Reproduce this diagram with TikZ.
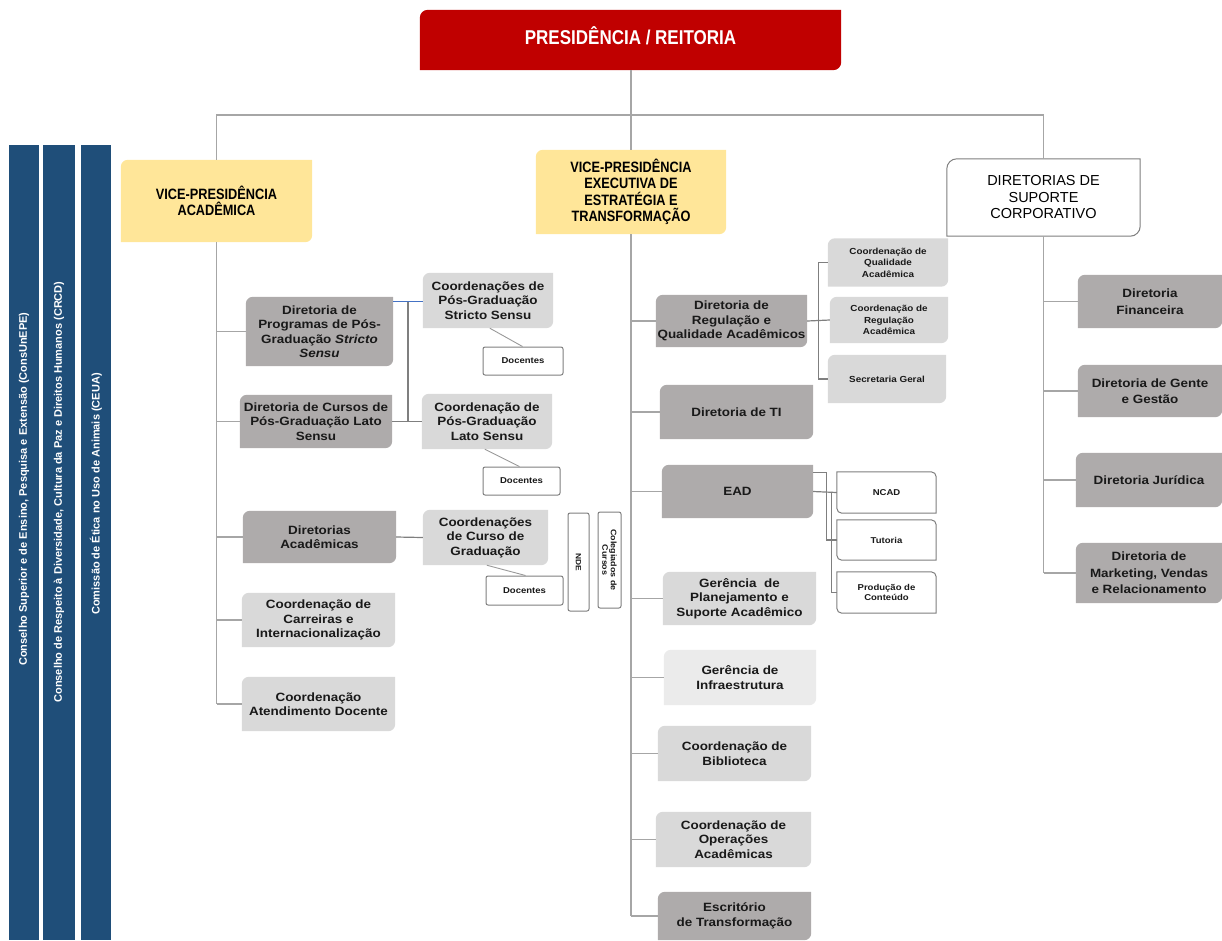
\documentclass[tikz,border=0pt]{standalone}
\usepackage{fontspec}
\setmainfont{Liberation Sans}
\newfontfamily\boxfnt[FakeStretch=1.12]{Liberation Sans}
\newfontfamily\narrowfnt[FakeStretch=0.85]{Liberation Sans}
\usetikzlibrary{backgrounds,calc}
\definecolor{cRed}{HTML}{C00000}
\definecolor{cYellow}{HTML}{FFE699}
\definecolor{cDark}{HTML}{AEABAB}
\definecolor{cLight}{HTML}{D9D9D9}
\definecolor{cLighter}{HTML}{EBEBEB}
\definecolor{cBar}{HTML}{1F4E79}
\definecolor{lineGray}{HTML}{A6A6A6}
\definecolor{darkLine}{HTML}{7F7F7F}
\definecolor{cBorder}{HTML}{7F7F7F}
\definecolor{cBlueLine}{HTML}{4472C4}
\newcommand\tlbr[4]{%
  \path[fill=#2,draw=#3,line width=1pt] ([yshift=-#4]#1.north west) arc[start angle=180,end angle=90,radius=#4] -- (#1.north east) -- ([yshift=#4]#1.south east) arc[start angle=0,end angle=-90,radius=#4] -- (#1.south west) -- cycle;}
\newcommand\trbl[4]{%
  \path[fill=#2,draw=#3,line width=1pt] (#1.north west) -- ([xshift=-#4]#1.north east) arc[start angle=90,end angle=0,radius=#4] -- (#1.south east) -- ([xshift=#4]#1.south west) arc[start angle=270,end angle=180,radius=#4] -- cycle;}
\begin{document}
\begin{tikzpicture}[x=1pt,y=-1pt,
  box/.style={inner sep=0pt, align=center, text=black!90, font=\boxfnt\bfseries\fontsize{12}{14.5}\selectfont},
  rbox/.style={box, font=\boxfnt\bfseries\fontsize{12}{16.5}\selectfont},
  smallbox/.style={box, font=\boxfnt\bfseries\fontsize{8.8}{11.5}\selectfont},
  tinybox/.style={box, font=\boxfnt\bfseries\fontsize{8.5}{10.5}\selectfont},
  head/.style={inner sep=0pt, align=center, text=black, font=\narrowfnt\bfseries\fontsize{15}{16.5}\selectfont},
  wbox/.style={box, draw=cBorder, line width=1pt, rounded corners=2pt, fill=white},
  conn/.style={draw=lineGray, line width=1.5pt},
  dconn/.style={draw=darkLine, line width=1.2pt},
  thin/.style={draw=darkLine!80, line width=0.9pt},
  bar/.style={fill=cBar, inner sep=0pt, minimum width=30, minimum height=795},
  bartext/.style={rotate=90, text=white, inner sep=0pt, font=\bfseries\fontsize{11}{13}\selectfont}]
\useasboundingbox (0,0) rectangle (1222,940);

% side bars
\node[bar] (b1) at (24,542.5) {};
\node[bar, minimum width=32] (b2) at (59,542.5) {};
\node[bar] (b3) at (96,542.5) {};
\node[bartext] (t1) at (24,489) {Conselho Superior e de Ensino, Pesquisa e Extensão (ConsUnEPE)};
\node[bartext] (t2) at (59,492) {Conselho de Respeito à Diversidade, Cultura da Paz e Direitos Humanos (CRCD)};
\node[bartext] (t3) at (96,494) {Comissão de Ética no Uso de Animais (CEUA)};

% top level
\node[inner sep=0pt, minimum width=421, minimum height=60, text=white, font=\narrowfnt\bfseries\fontsize{20}{22}\selectfont] (pres) at (630.5,40) {\raisebox{-4pt}[0pt][0pt]{PRESIDÊNCIA / REITORIA}};
\node[head, minimum width=191, minimum height=82] (vpa) at (216.5,201) {VICE-PRESIDÊNCIA\\ACADÊMICA};
\node[head, minimum width=190, minimum height=84] (vpe) at (631,192) {VICE-PRESIDÊNCIA\\EXECUTIVA DE\\ESTRATÉGIA E\\TRANSFORMAÇÃO};
\node[inner sep=0pt, align=center, minimum width=193, minimum height=77, font=\fontsize{14.5}{16.5}\selectfont] (dsc) at (1043.5,197.5) {DIRETORIAS DE\\SUPORTE\\CORPORATIVO};

% left column
\node[box, minimum width=147, minimum height=69] (dp) at (319.5,331.5) {Diretoria de\\Programas de Pós-\\Graduação \textit{Stricto}\\\textit{Sensu}};
\node[box, minimum width=152, minimum height=53] (dc) at (316,421.5) {Diretoria de Cursos de\\Pós-Graduação Lato\\Sensu};
\node[box, minimum width=153, minimum height=52] (da) at (319.5,537) {Diretorias\\Acadêmicas};
\node[box, minimum width=153, minimum height=54] (cci) at (318.5,620) {Coordenação de\\Carreiras e\\Internacionalização};
\node[box, minimum width=153, minimum height=54] (cad) at (318.5,704) {Coordenação\\Atendimento Docente};
\node[box, minimum width=130, minimum height=55] (cs) at (488,300.5) {Coordenações de\\Pós-Graduação\\Stricto Sensu};
\node[wbox, tinybox, minimum width=80, minimum height=28] (doc1) at (523,361) {Docentes};
\node[box, minimum width=130, minimum height=55] (cl) at (487,421.5) {Coordenação de\\Pós-Graduação\\Lato Sensu};
\node[wbox, tinybox, minimum width=77, minimum height=28] (doc2) at (521.5,481) {Docentes};
\node[box, minimum width=125, minimum height=55] (ccg) at (485.5,537.5) {Coordenações\\de Curso de\\Graduação};
\node[wbox, tinybox, minimum width=77, minimum height=29] (doc3) at (524.5,590.5) {Docentes};
\node[wbox, rotate=-90, minimum width=98, minimum height=21, font=\boxfnt\bfseries\fontsize{7.5}{8.5}\selectfont] (nde) at (578.5,562) {NDE};
\node[wbox, rotate=-90, minimum width=96, minimum height=23, font=\boxfnt\bfseries\fontsize{8}{8.5}\selectfont] (col) at (609.5,560) {Colegiados de\\Cursos};

% middle column
\node[box, minimum width=151, minimum height=52] (reg) at (731.5,321) {Diretoria de\\Regulação e\\Qualidade Acadêmicos};
\node[smallbox, minimum width=120, minimum height=48] (cqa) at (888,262.5) {Coordenação de\\Qualidade\\Acadêmica};
\node[smallbox, minimum width=118, minimum height=46] (crg) at (889,320) {Coordenação de\\Regulação\\Acadêmica};
\node[smallbox, minimum width=118, minimum height=48] (sg) at (887,379) {Secretaria Geral};
\node[box, minimum width=153, minimum height=54] (ti) at (736.5,412) {Diretoria de TI};
\node[box, minimum width=151, minimum height=53] (ead) at (737.5,491.5) {EAD};
\node[tinybox, minimum width=99, minimum height=41] (ncad) at (886.5,492.5) {NCAD};
\node[tinybox, minimum width=99, minimum height=40] (tut) at (886.5,540) {Tutoria};
\node[tinybox, minimum width=99, minimum height=41] (prod) at (886.5,592.5) {Produção de\\Conteúdo};
\node[box, minimum width=153, minimum height=53] (gps) at (739.5,598.5) {Gerência\ \ de\\Planejamento e\\Suporte Acadêmico};
\node[box, minimum width=152, minimum height=55] (gi) at (740,677.5) {Gerência de\\Infraestrutura};
\node[box, minimum width=153, minimum height=55] (cb) at (734.5,753.5) {Coordenação de\\Biblioteca};
\node[box, minimum width=155, minimum height=55] (cop) at (733.5,839.5) {Coordenação de\\Operações\\Acadêmicas};
\node[box, minimum width=153, minimum height=48] (esc) at (734.5,916) {Escritório\\de Transformação};

% right column
\node[rbox, minimum width=144, minimum height=53] (dfin) at (1150,301.5) {Diretoria\\Financeira};
\node[rbox, minimum width=144, minimum height=52] (dgg) at (1150,391) {Diretoria de Gente\\e Gestão};
\node[rbox, minimum width=146, minimum height=54] (dj) at (1149,480) {Diretoria Jurídica};
\node[rbox, minimum width=146, minimum height=60] (dmk) at (1149,573) {Diretoria de\\Marketing, Vendas\\e Relacionamento};

% connectors: top
\draw[conn] (vpe.north |- pres.south) -- (vpe.north);
\draw[conn] (vpa.north) -- ++(0,-45) -| (dsc.north);

% left trunk
\draw[conn] (vpa.south) -- (vpa.south |- cad.west);
\foreach \n in {dp,dc,da,cci,cad} \draw[conn] (vpa.south |- \n.west) -- (\n.west);
\coordinate (dpA) at ([yshift=-5pt]dp.north east);
\coordinate (mb) at ($(dpA)!0.5!(dpA -| cs.west)$);
\draw[dconn] (mb) -- (mb |- dc.east);
\draw[draw=cBlueLine, line width=1.3pt] (dpA) -- (dpA -| cs.west);
\draw[dconn] (dc.east) -- (cl.west);
\draw[dconn] (da.east) -- (ccg.west);
\draw[thin] ([xshift=67pt]cs.south west) -- ([xshift=40pt]doc1.north west);
\draw[thin] ([xshift=63pt]cl.south west) -- ([xshift=37pt]doc2.north west);
\draw[thin] ([xshift=64pt]ccg.south west) -- ([xshift=40pt]doc3.north west);

% middle trunk
\draw[conn] (vpe.south) -- (vpe.south |- esc.west);
\foreach \n in {reg,ti,ead,gps,gi,cb,cop,esc} \draw[conn] (vpe.south |- \n.west) -- (\n.west);
\draw[dconn] (reg.east) -- (crg.west);
\coordinate (rb) at ($(reg.east)!0.5!(crg.west)$);
\draw[dconn] (cqa.west) -| (rb) |- (sg.west);
\coordinate (eadT) at ([yshift=-8pt]ead.north east);
\draw[dconn] (eadT) -- ++(13,0) |- (tut.west);
\draw[dconn] (ead.east) -- (ncad.west);
\draw[dconn] ($(ead.east)+(18,0)$) |- (prod.west);

% right trunk
\draw[conn] (dsc.south) -- (dsc.south |- dmk.west);
\foreach \n in {dfin,dgg,dj,dmk} \draw[conn] (dsc.south |- \n.west) -- (\n.west);

% backgrounds
\begin{pgfonlayer}{background}
\tlbr{pres}{cRed}{none}{8pt}
\foreach \n/\c in {vpa/cYellow,vpe/cYellow,dp/cDark,dc/cDark,da/cDark,cci/cLight,cad/cLight,cs/cLight,cl/cLight,ccg/cLight,reg/cDark,cqa/cLight,crg/cLight,sg/cLight,ti/cDark,ead/cDark,gps/cLight,gi/cLighter,cb/cLight,cop/cLight,esc/cDark,dfin/cDark,dgg/cDark,dj/cDark,dmk/cDark}
  {\tlbr{\n}{\c}{none}{7pt}}
\tlbr{dsc}{white}{cBorder}{10pt}
\foreach \n in {ncad,tut,prod} {\trbl{\n}{white}{cBorder}{5pt}}
\end{pgfonlayer}
\end{tikzpicture}
\end{document}
